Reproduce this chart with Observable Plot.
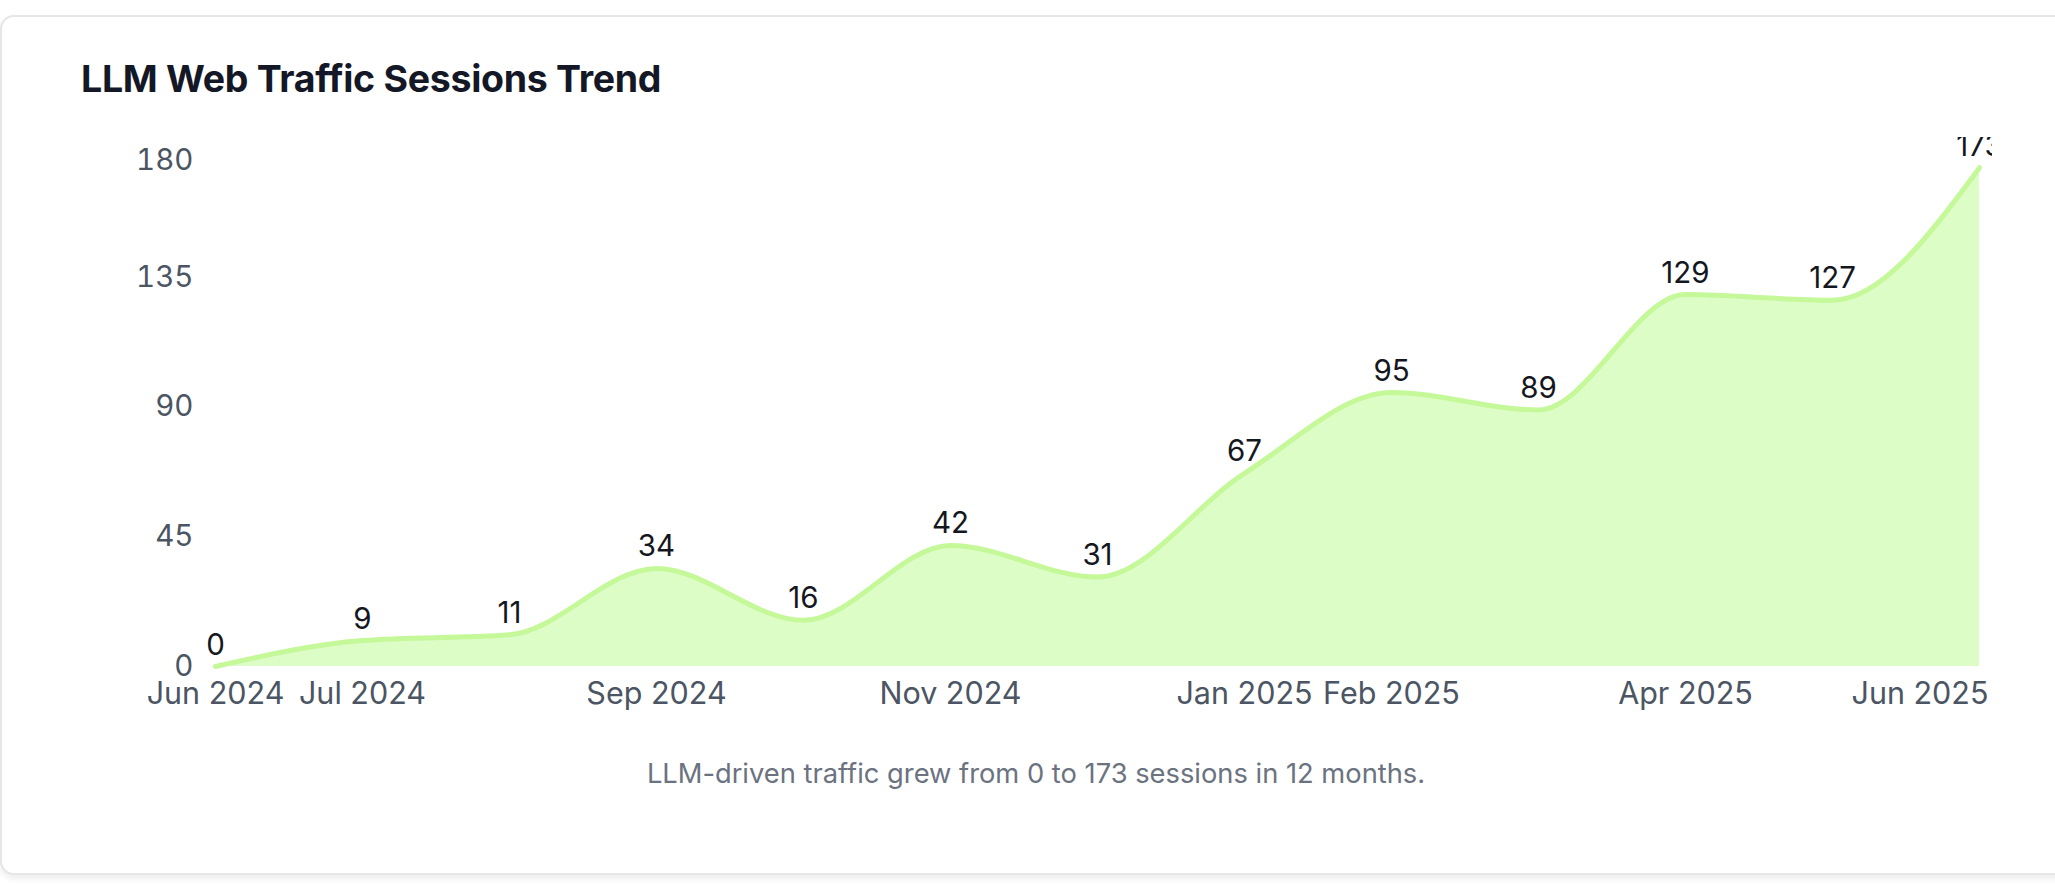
<!DOCTYPE html>
<html>
<head>
<meta charset="utf-8">
<script src="https://cdn.jsdelivr.net/npm/d3@7"></script>
<script src="https://cdn.jsdelivr.net/npm/@observablehq/plot@0.6"></script>
<style>
  html, body { margin: 0; padding: 0; background: #ffffff; width: 2055px; height: 896px; overflow: hidden; }
  .card {
    position: absolute; left: 0; top: 15px; width: 2100px; height: 860px;
    background: #fff; border: 2px solid #e6e6e6; border-radius: 14px;
    box-shadow: 0 4px 6px rgba(0,0,0,0.07); box-sizing: border-box;
  }
  .title {
    position: absolute; left: 81px; top: 56px; margin: 0; line-height: normal;
    font-family: Inter, "Noto Sans", sans-serif; font-weight: 700; font-size: 37.5px;
    color: #141826; letter-spacing: -0.3px; white-space: nowrap;
  }
  #chart { position: absolute; left: 80px; top: 137px; width: 1912px; }
  .caption {
    position: absolute; left: 80px; top: 757px; width: 1912px; text-align: center;
    font-family: Inter, "Noto Sans", sans-serif; font-size: 27.3px; color: #6b7280;
  }
</style>
</head>
<body>
<div class="card"></div>
<h1 class="title">LLM Web Traffic Sessions Trend</h1>
<div id="chart"></div>
<div class="caption">LLM-driven traffic grew from 0 to 173 sessions in 12 months.</div>
<script>
const months = ["Jun 2024","Jul 2024","Aug 2024","Sep 2024","Oct 2024","Nov 2024","Dec 2024","Jan 2025","Feb 2025","Mar 2025","Apr 2025","May 2025","Jun 2025"];
const sessions = [0, 9, 11, 34, 16, 42, 31, 67, 95, 89, 129, 127, 173];
const xTickLabels = ["Jun 2024","Jul 2024","Sep 2024","Nov 2024","Jan 2025","Feb 2025","Apr 2025"];
const xLastTick = ["Jun 2025"];
const yTicks = [0, 45, 90, 135];
const yTopTick = [180];

const data = months.map((m, i) => ({month: m, sessions: sessions[i]}));

const plot = Plot.plot({
  width: 1912,
  height: 583,
  marginLeft: 130,
  marginRight: 9,
  marginTop: 10,
  marginBottom: 54,
  style: {fontFamily: "Inter, 'Noto Sans', sans-serif", color: "#4b5563", background: "transparent"},
  x: {type: "point", domain: months, padding: 0},
  y: {domain: [0, 180]},
  marks: [
    Plot.areaY(data, {x: "month", y: "sessions", curve: "monotone-x", fill: "#dcfdc6"}),
    Plot.lineY(data, {x: "month", y: "sessions", curve: "monotone-x", stroke: "#c4f898", strokeWidth: 5}),
    Plot.axisY(yTicks, {tickSize: 0, tickPadding: 17, fontSize: 29.5, label: null}),
    Plot.axisY(yTopTick, {tickSize: 0, tickPadding: 17, fontSize: 29.5, dy: 13, label: null}),
    Plot.axisX(xTickLabels, {tickSize: 0, tickPadding: 16, fontSize: 30.5, label: null}),
    Plot.axisX(xLastTick, {tickSize: 0, tickPadding: 16, fontSize: 30.5, textAnchor: "end", dx: 9, label: null}),
    Plot.text(data, {x: "month", y: "sessions", text: d => String(d.sessions), dy: -12, lineAnchor: "bottom", fontSize: 29.5, fill: "#15171f"})
  ]
});
document.getElementById("chart").appendChild(plot);
</script>
</body>
</html>
